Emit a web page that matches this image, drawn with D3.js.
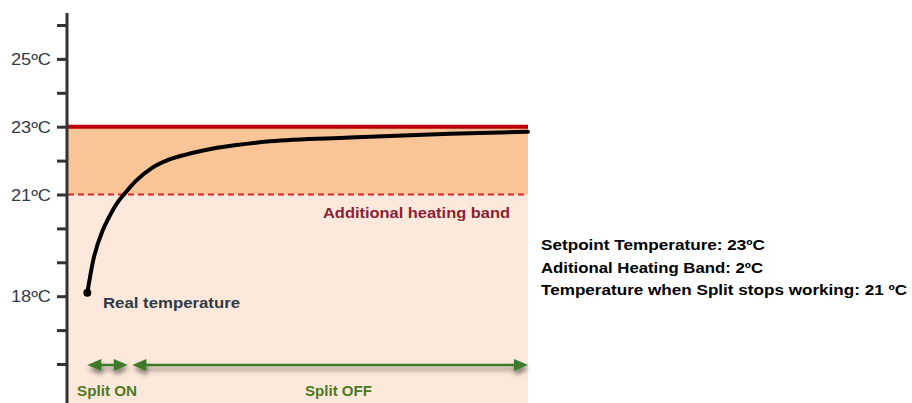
<!DOCTYPE html>
<html>
<head>
<meta charset="utf-8">
<script src="https://cdn.jsdelivr.net/npm/d3@7"></script>
<style>
  body { margin: 0; background: #fff; }
  text { font-family: "Liberation Sans", Arial, sans-serif; }
</style>
</head>
<body>
<svg width="912" height="403"></svg>
<script>
// time is in arbitrary units (0..100 across the plot), temperature in ºC
var time = [4.2, 5.5, 7.6, 8.8, 10.9, 12.4, 14.6, 18.2, 21.8, 25.4, 29.4, 36.7, 43.9, 61.3, 83, 100];
var temp = [18.1, 19.07, 19.96, 20.3, 20.79, 21.04, 21.38, 21.78, 22.02, 22.17, 22.3, 22.46, 22.57, 22.68, 22.79, 22.85];

var tickTemps = [16, 17, 18, 19, 20, 21, 22, 23, 24, 25, 26];
var labelTemps = [18, 21, 23, 25];

var setpoint = 23;
var bandLow = 21;
var splitOn = [4.2, 13];
var splitOff = [14, 100];

var notes = ["Setpoint Temperature: 23ºC",
             "Aditional Heating Band: 2ºC",
             "Temperature when Split stops working: 21 ºC"];
var noteWidths = [224, 222, 366];

var svg = d3.select("svg"),
    width = +svg.attr("width"),
    height = +svg.attr("height");

var x = d3.scaleLinear().domain([0, 100]).range([68, 528]);
var y = d3.scaleLinear().domain([16, 26]).range([364, 25]);

var defs = svg.append("defs");
var f = defs.append("filter").attr("id", "shadow")
    .attr("x", "-10%").attr("y", "-100%").attr("width", "120%").attr("height", "400%");
f.append("feDropShadow").attr("dx", 1).attr("dy", 4).attr("stdDeviation", 2.5)
    .attr("flood-color", "#000").attr("flood-opacity", 0.5);

// stretched text, the original lettering is wider than Arial
function label(tx, ty, str, size, color, w, anchor, weight) {
  return svg.append("text").attr("x", tx).attr("y", ty)
      .attr("font-size", size).attr("font-weight", weight || "bold").attr("fill", color)
      .attr("text-anchor", anchor || "start")
      .attr("textLength", w).attr("lengthAdjust", "spacingAndGlyphs")
      .text(str);
}

// bands
svg.append("rect")
    .attr("x", x(0)).attr("y", y(bandLow))
    .attr("width", x(100) - x(0)).attr("height", height - y(bandLow))
    .attr("fill", "#fde9db");
svg.append("rect")
    .attr("x", x(0)).attr("y", y(setpoint))
    .attr("width", x(100) - x(0)).attr("height", y(bandLow) - y(setpoint))
    .attr("fill", "#f9c496");

svg.append("line")
    .attr("x1", x(0)).attr("x2", x(100))
    .attr("y1", y(setpoint)).attr("y2", y(setpoint))
    .attr("stroke", "#c00000").attr("stroke-width", 4);
svg.append("line")
    .attr("x1", x(0)).attr("x2", x(100))
    .attr("y1", y(bandLow)).attr("y2", y(bandLow))
    .attr("stroke", "#d7262b").attr("stroke-width", 2)
    .attr("stroke-dasharray", "6,4");

// axis
var axis = d3.axisLeft(y).tickValues(tickTemps).tickSize(10).tickFormat("");
var ag = svg.append("g").attr("transform", "translate(67,0)").call(axis);
ag.select(".domain").remove();
ag.selectAll(".tick line").attr("stroke", "#333").attr("stroke-width", 3);
svg.append("line")
    .attr("x1", 67).attr("x2", 67).attr("y1", 13).attr("y2", height)
    .attr("stroke", "#333").attr("stroke-width", 3);

labelTemps.forEach(function(d) {
  label(51, y(d) + 6, d + "ºC", 16, "#333a48", 40, "end", "normal");
});

// curve
var pts = time.map(function(t, i) { return [t, temp[i]]; });
var line = d3.line()
    .x(function(d) { return x(d[0]); })
    .y(function(d) { return y(d[1]); })
    .curve(d3.curveMonotoneX);
svg.append("path").datum(pts)
    .attr("d", line)
    .attr("fill", "none").attr("stroke", "#000").attr("stroke-width", 4)
    .attr("stroke-linecap", "round");
svg.append("circle")
    .attr("cx", x(time[0])).attr("cy", y(temp[0])).attr("r", 4).attr("fill", "#000");

label(103, 308, "Real temperature", 15, "#2f3a47", 137);
label(323, 218, "Additional heating band", 15, "#8b1f35", 187);

// split arrows
var ay = 365;
function arrow(a, b) {
  var g = svg.append("g").attr("filter", "url(#shadow)");
  var x1 = x(a), x2 = x(b);
  g.append("line").attr("x1", x1 + 10).attr("x2", x2 - 10)
      .attr("y1", ay).attr("y2", ay)
      .attr("stroke", "#3c7a2a").attr("stroke-width", 2.5);
  g.append("path").attr("d", "M" + x1 + "," + ay + "L" + (x1 + 14) + "," + (ay - 6) + "L" + (x1 + 14) + "," + (ay + 6) + "Z")
      .attr("fill", "#3c7a2a");
  g.append("path").attr("d", "M" + x2 + "," + ay + "L" + (x2 - 14) + "," + (ay - 6) + "L" + (x2 - 14) + "," + (ay + 6) + "Z")
      .attr("fill", "#3c7a2a");
}
arrow(splitOn[0], splitOn[1]);
arrow(splitOff[0], splitOff[1]);

label(77, 396, "Split ON", 15, "#4e7a1f", 60);
label(305, 396, "Split OFF", 15, "#4e7a1f", 67);

// notes
notes.forEach(function(d, i) {
  label(541, 250 + i * 22.5, d, 14.5, "#000", noteWidths[i]);
});
</script>
</body>
</html>
